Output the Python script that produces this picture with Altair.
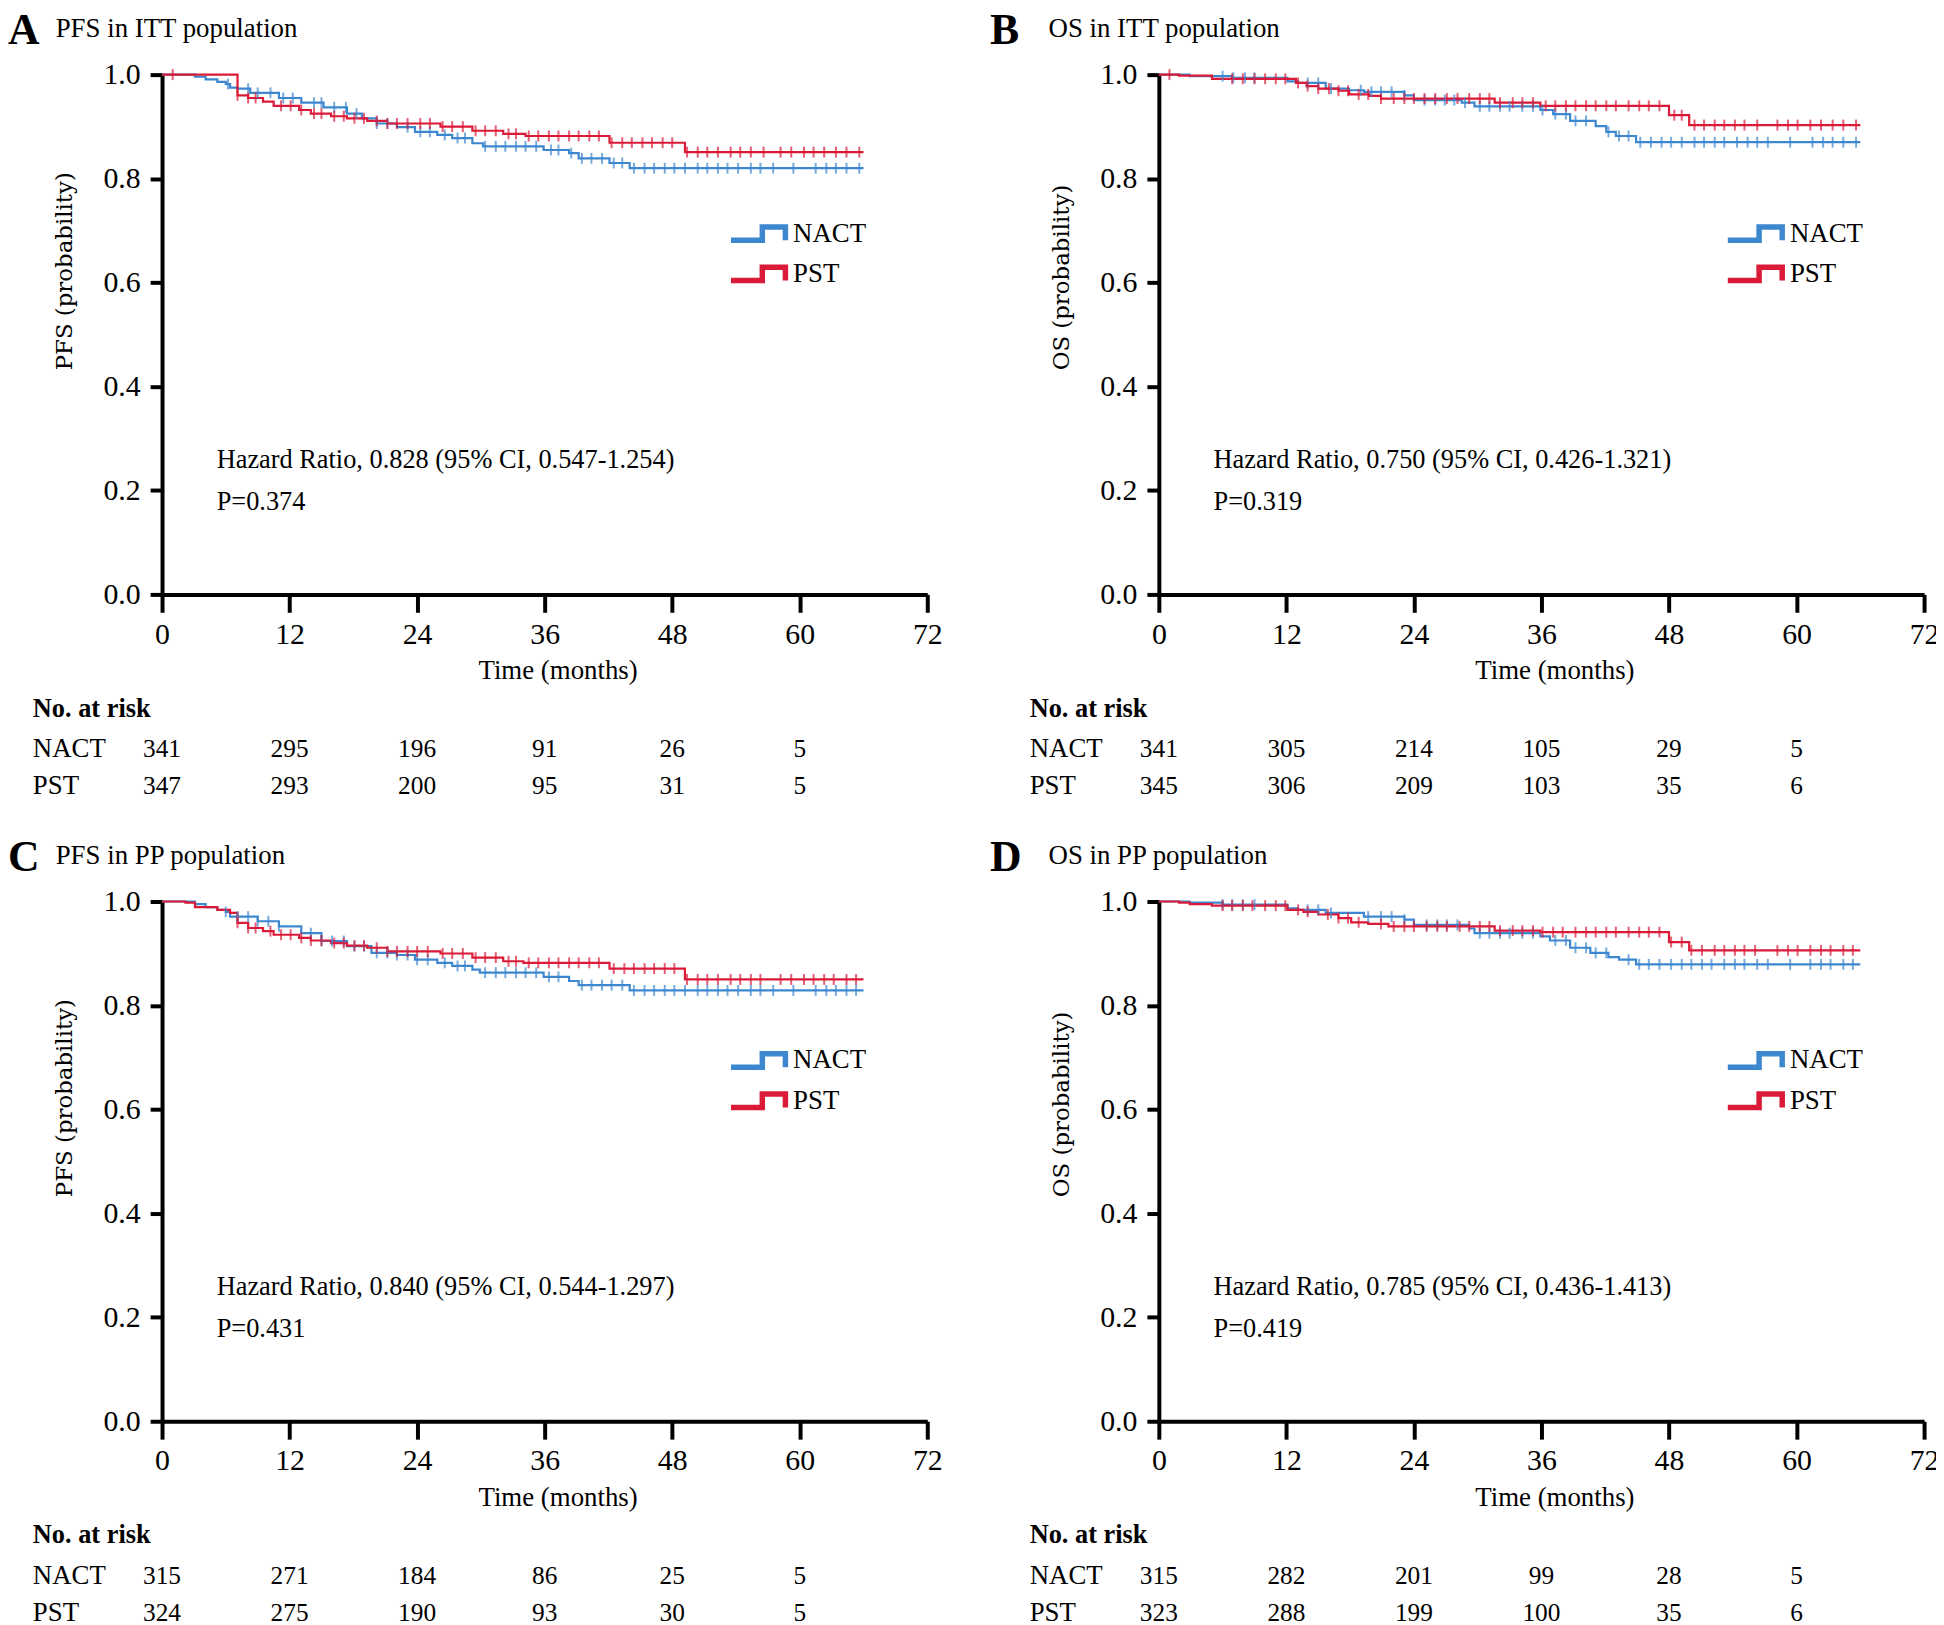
import altair as alt
import pandas as pd

BLUE = "#3d87cf"
RED = "#da1a37"
SERIF = "Liberation Serif"
YFONT = "DejaVu Serif"
GROUPS = ["NACT", "PST"]
X_TICKS = [0, 12, 24, 36, 48, 60, 72]
Y_TICKS = [0.0, 0.2, 0.4, 0.6, 0.8, 1.0]
RISK_TIMES = [0, 12, 24, 36, 48, 60]

# ---------------- Panel A: PFS in ITT population ----------------
A_NACT_T = [0, 3.1, 4.1, 5.2, 6.0, 6.4, 7.1, 8.3, 11.0, 13.1, 15.2, 17.4, 18.8, 20.2, 22.1, 23.8, 25.9, 27.3, 29.2, 30.2, 35.9, 38.3, 39.2, 42.1, 44.0, 66.0]
A_NACT_S = [1.0, 0.996, 0.991, 0.986, 0.982, 0.975, 0.973, 0.965, 0.955, 0.946, 0.937, 0.925, 0.916, 0.906, 0.899, 0.890, 0.884, 0.878, 0.868, 0.862, 0.855, 0.849, 0.839, 0.830, 0.820, 0.820]
A_NACT_C = [6.2, 8.1, 9.0, 10.2, 11.4, 12.3, 14.3, 15.0, 16.2, 17.3, 18.3, 20.2, 21.2, 23.1, 24.3, 25.2, 26.6, 27.8, 28.5, 30.4, 31.4, 32.3, 33.3, 34.2, 35.2, 36.6, 37.3, 38.5, 39.5, 40.4, 41.4, 42.5, 43.3, 44.4, 45.4, 46.3, 47.3, 48.2, 49.2, 50.4, 51.3, 52.3, 53.2, 54.2, 55.4, 56.3, 57.5, 59.4, 61.5, 62.5, 63.4, 64.4, 65.6]
A_PST_T = [0, 7.1, 8.1, 9.5, 10.5, 12.9, 14.0, 15.9, 17.4, 19.3, 21.2, 26.2, 29.2, 32.1, 34.2, 42.1, 49.2, 66.0]
A_PST_S = [1.0, 0.960, 0.955, 0.948, 0.940, 0.932, 0.925, 0.920, 0.916, 0.911, 0.906, 0.900, 0.892, 0.886, 0.882, 0.869, 0.851, 0.851]
A_PST_C = [1.0, 7.1, 8.1, 8.8, 11.2, 12.1, 13.1, 14.3, 15.0, 16.2, 17.1, 18.1, 19.0, 20.2, 21.2, 22.1, 23.1, 24.3, 25.2, 26.4, 27.3, 28.3, 29.5, 30.4, 31.4, 32.6, 33.3, 34.5, 35.4, 36.4, 37.3, 38.3, 39.2, 40.2, 41.1, 42.3, 43.3, 44.2, 45.2, 46.1, 47.1, 48.0, 49.4, 50.4, 51.3, 52.3, 53.5, 54.4, 55.4, 56.6, 58.2, 59.2, 60.4, 61.3, 62.3, 63.4, 64.4, 65.6]
A_RISK_NACT = [341, 295, 196, 91, 26, 5]
A_RISK_PST = [347, 293, 200, 95, 31, 5]

# ---------------- Panel B: OS in ITT population ----------------
B_NACT_T = [0, 2.9, 6.9, 12.1, 13.1, 15.7, 17.9, 19.3, 23.1, 24.0, 28.5, 29.7, 35.9, 37.1, 38.7, 41.1, 42.1, 43.0, 44.9, 66.0]
B_NACT_S = [1.0, 0.997, 0.994, 0.987, 0.984, 0.973, 0.970, 0.967, 0.960, 0.951, 0.946, 0.939, 0.932, 0.924, 0.911, 0.901, 0.890, 0.882, 0.870, 0.870]
B_NACT_C = [6.0, 7.0, 8.1, 9.0, 14.0, 15.0, 16.2, 19.0, 20.0, 20.9, 21.9, 23.1, 25.0, 26.0, 26.9, 27.8, 28.8, 30.2, 31.1, 32.1, 33.0, 34.2, 35.2, 36.1, 37.3, 38.3, 39.2, 40.2, 42.3, 43.3, 44.2, 45.3, 46.3, 47.3, 48.2, 49.2, 50.4, 51.3, 52.3, 53.2, 54.4, 55.4, 56.3, 57.3, 59.4, 61.5, 62.5, 63.4, 64.4, 65.6]
B_PST_T = [0, 1.9, 5.0, 12.9, 13.9, 15.0, 16.9, 17.9, 19.8, 20.9, 31.6, 35.9, 48.0, 49.9, 66.0]
B_PST_S = [1.0, 0.998, 0.992, 0.984, 0.978, 0.973, 0.969, 0.962, 0.959, 0.954, 0.946, 0.940, 0.922, 0.903, 0.903]
B_PST_C = [1.0, 6.9, 7.9, 9.0, 10.0, 11.0, 11.9, 13.1, 14.0, 15.0, 16.0, 16.9, 17.8, 18.8, 19.7, 20.9, 22.1, 23.1, 24.0, 25.0, 26.0, 27.1, 28.1, 29.2, 30.2, 31.1, 32.1, 33.3, 34.2, 35.2, 36.4, 37.3, 38.3, 39.2, 40.2, 41.1, 42.1, 43.0, 44.2, 45.2, 46.1, 47.1, 48.5, 49.2, 50.4, 51.3, 52.3, 53.2, 54.2, 55.1, 56.3, 58.2, 59.2, 60.1, 61.3, 62.3, 63.4, 64.4, 65.6]
B_RISK_NACT = [341, 305, 214, 105, 29, 5]
B_RISK_PST = [345, 306, 209, 103, 35, 6]

# ---------------- Panel C: PFS in PP population ----------------
C_NACT_T = [0, 3.1, 4.1, 5.2, 6.0, 6.4, 9.0, 11.0, 13.1, 15.0, 17.4, 19.7, 22.1, 23.8, 25.9, 27.3, 29.2, 29.9, 35.9, 38.3, 39.2, 44.0, 66.0]
C_NACT_S = [1.0, 0.995, 0.989, 0.984, 0.980, 0.971, 0.962, 0.952, 0.939, 0.924, 0.914, 0.901, 0.897, 0.888, 0.882, 0.876, 0.869, 0.863, 0.855, 0.847, 0.839, 0.829, 0.829]
C_NACT_C = [6.0, 7.1, 8.1, 9.0, 10.0, 11.0, 14.0, 15.0, 16.0, 17.1, 18.1, 19.0, 20.2, 21.2, 22.1, 23.1, 24.0, 25.0, 26.6, 27.8, 28.5, 30.4, 31.4, 32.3, 33.3, 34.2, 35.2, 36.4, 37.3, 39.5, 40.4, 41.4, 42.3, 43.3, 44.4, 45.4, 46.3, 47.3, 48.2, 49.2, 50.4, 51.3, 52.3, 53.2, 54.2, 55.4, 56.3, 57.5, 59.4, 61.5, 62.5, 63.4, 64.4, 65.3]
C_PST_T = [0, 2.2, 3.1, 5.2, 6.4, 7.1, 8.1, 9.5, 10.5, 12.9, 14.0, 15.9, 17.4, 19.3, 21.2, 26.2, 29.2, 32.1, 34.0, 42.1, 49.2, 66.0]
C_PST_S = [1.0, 0.998, 0.989, 0.984, 0.978, 0.959, 0.949, 0.943, 0.936, 0.930, 0.925, 0.920, 0.915, 0.911, 0.904, 0.900, 0.892, 0.885, 0.882, 0.871, 0.850, 0.850]
C_PST_C = [7.1, 8.1, 8.8, 10.2, 11.2, 12.1, 13.1, 14.0, 15.0, 16.2, 17.1, 18.1, 19.0, 20.2, 21.2, 22.1, 23.1, 24.0, 25.0, 26.4, 27.3, 28.3, 29.5, 30.4, 31.4, 32.6, 33.3, 34.5, 35.4, 36.4, 37.3, 38.3, 39.2, 40.2, 41.1, 42.5, 43.5, 44.4, 45.4, 46.3, 47.3, 48.2, 49.4, 50.4, 51.3, 52.3, 53.5, 54.4, 55.4, 56.3, 58.2, 59.2, 60.4, 61.3, 62.3, 63.2, 64.4, 65.3]
C_RISK_NACT = [315, 271, 184, 86, 25, 5]
C_RISK_PST = [324, 275, 190, 93, 30, 5]

# ---------------- Panel D: OS in PP population ----------------
D_NACT_T = [0, 2.9, 6.0, 12.1, 13.1, 15.7, 19.3, 23.1, 24.0, 29.2, 29.7, 35.9, 36.8, 38.7, 40.6, 42.3, 43.3, 44.9, 66.0]
D_NACT_S = [1.0, 0.998, 0.994, 0.987, 0.984, 0.978, 0.971, 0.965, 0.955, 0.948, 0.939, 0.933, 0.925, 0.911, 0.901, 0.893, 0.888, 0.879, 0.879]
D_NACT_C = [6.0, 6.9, 7.9, 9.0, 14.0, 15.0, 16.2, 19.7, 20.9, 21.9, 23.1, 25.2, 26.2, 27.1, 28.1, 30.2, 31.1, 32.1, 33.0, 34.2, 35.2, 37.3, 38.3, 39.2, 40.2, 41.1, 42.1, 44.2, 45.2, 46.1, 47.1, 48.2, 49.2, 50.1, 51.1, 52.0, 53.2, 54.2, 55.1, 56.3, 57.3, 59.4, 61.3, 62.3, 63.2, 64.4, 65.3]
D_PST_T = [0, 1.9, 2.9, 5.0, 12.1, 13.6, 15.0, 16.9, 18.1, 19.7, 21.6, 31.6, 35.9, 48.0, 49.9, 66.0]
D_PST_S = [1.0, 0.998, 0.995, 0.992, 0.984, 0.980, 0.975, 0.968, 0.960, 0.957, 0.952, 0.944, 0.941, 0.922, 0.906, 0.906]
D_PST_C = [6.0, 6.9, 7.9, 8.8, 10.0, 11.0, 11.9, 13.1, 14.0, 15.9, 16.9, 17.8, 18.8, 20.9, 22.1, 23.1, 24.0, 25.2, 26.2, 27.1, 28.3, 29.2, 30.2, 31.1, 32.1, 33.3, 34.2, 35.2, 36.1, 37.1, 38.0, 39.2, 40.2, 41.1, 42.1, 43.0, 44.2, 45.2, 46.1, 47.1, 48.2, 49.2, 50.1, 51.1, 52.3, 53.2, 54.2, 55.1, 56.1, 58.2, 59.2, 60.1, 61.3, 62.3, 63.2, 64.4, 65.3]
D_RISK_NACT = [315, 282, 201, 99, 28, 5]
D_RISK_PST = [323, 288, 199, 100, 35, 6]

PANELS = [
    dict(letter="A", title="PFS in ITT population", ytitle="PFS (probability)",
         hr="Hazard Ratio, 0.828 (95% CI, 0.547-1.254)", p="P=0.374",
         nact=(A_NACT_T, A_NACT_S, A_NACT_C), pst=(A_PST_T, A_PST_S, A_PST_C),
         risk=(A_RISK_NACT, A_RISK_PST), col=0),
    dict(letter="B", title="OS in ITT population", ytitle="OS (probability)",
         hr="Hazard Ratio, 0.750 (95% CI, 0.426-1.321)", p="P=0.319",
         nact=(B_NACT_T, B_NACT_S, B_NACT_C), pst=(B_PST_T, B_PST_S, B_PST_C),
         risk=(B_RISK_NACT, B_RISK_PST), col=1),
    dict(letter="C", title="PFS in PP population", ytitle="PFS (probability)",
         hr="Hazard Ratio, 0.840 (95% CI, 0.544-1.297)", p="P=0.431",
         nact=(C_NACT_T, C_NACT_S, C_NACT_C), pst=(C_PST_T, C_PST_S, C_PST_C),
         risk=(C_RISK_NACT, C_RISK_PST), col=0),
    dict(letter="D", title="OS in PP population", ytitle="OS (probability)",
         hr="Hazard Ratio, 0.785 (95% CI, 0.436-1.413)", p="P=0.419",
         nact=(D_NACT_T, D_NACT_S, D_NACT_C), pst=(D_PST_T, D_PST_S, D_PST_C),
         risk=(D_RISK_NACT, D_RISK_PST), col=1),
]

# step-shaped legend symbol, traced forward and back so that it encloses no area
STEP_SYMBOL = "M-1.9,0.45 H0.2 V-0.45 H1.75 V0.45 V-0.45 H0.2 V0.45 Z"
W, H = 770, 523


def step_value(times, surv, t):
    v = surv[0]
    for ti, si in zip(times, surv):
        if ti <= t:
            v = si
    return v


def label(text, x, y, size, weight="normal", align="left", font=SERIF):
    return alt.Chart(alt.Data(values=[{"txt": text}])).mark_text(
        align=align, baseline="alphabetic", fontSize=size, fontWeight=weight,
        font=font, color="black"
    ).encode(text="txt:N", x=alt.value(x), y=alt.value(y))


def panel(P):
    rows, cens = [], []
    for g, (tt, ss, cc) in zip(GROUPS, [P["nact"], P["pst"]]):
        for t, s in zip(tt, ss):
            rows.append({"t": t, "s": s, "g": g})
        for c in cc:
            cens.append({"t": c, "s": step_value(tt, ss, c), "g": g})
    steps = pd.DataFrame(rows)
    cdf = pd.DataFrame(cens)

    x = alt.X("t:Q", title="Time (months)",
              scale=alt.Scale(domain=[0, 72], nice=False, zero=False),
              axis=alt.Axis(values=X_TICKS, format="d", labelFlush=False))
    y = alt.Y("s:Q", title=P["ytitle"], scale=alt.Scale(domain=[0, 1], nice=False),
              axis=alt.Axis(values=Y_TICKS, format=".1f", labelFlush=False))
    cscale = alt.Scale(domain=GROUPS, range=[BLUE, RED])
    legend = alt.Legend(
        title=None, orient="none", legendX=583, legendY=142, padding=0,
        symbolType=STEP_SYMBOL, symbolSize=900, symbolStrokeWidth=5.5,
        symbolFillColor="transparent", labelOffset=16, rowPadding=4.5,
        labelFont=SERIF, labelFontSize=27, labelColor="black",
    )

    # legend carrier: a thick line through only the first point of each curve
    # (a single point draws nothing), so its legend symbols are thick
    key = alt.Chart(steps[steps["t"] == 0]).mark_line(strokeWidth=5.5).encode(
        x=x, y=y, color=alt.Color("g:N", scale=cscale, legend=legend)
    )
    lines = alt.Chart(steps).mark_line(interpolate="step-after", strokeWidth=2.2).encode(
        x=x, y=y, color=alt.Color("g:N", scale=cscale, legend=None)
    )
    ticks = alt.Chart(cdf).mark_tick(orient="vertical", size=11, thickness=2).encode(
        x=x, y=y, color=alt.Color("g:N", scale=cscale, legend=None)
    )

    layers = [key, lines, ticks]
    for vals, yy in zip(P["risk"], [687, 724]):
        rdf = pd.DataFrame({"t": RISK_TIMES, "n": [str(v) for v in vals]})
        layers.append(
            alt.Chart(rdf).mark_text(align="center", baseline="alphabetic", fontSize=25.5,
                                     font=SERIF, color="black")
            .encode(x=x, y=alt.value(yy), text="n:N")
        )
    letter_x = -155 if P["col"] == 0 else -170
    title_x = -107 if P["col"] == 0 else -111
    layers += [
        label(P["hr"], 55, 396, 26.5),
        label(P["p"], 55, 438, 26.5),
        label("No. at risk", -130, 646, 26.5, weight="bold"),
        label("NACT", -130, 687, 27),
        label("PST", -130, 724, 27),
        label(P["letter"], letter_x, -31, 44, weight="bold"),
        label(P["title"], title_x, -38, 27),
    ]
    return alt.layer(*layers).properties(width=W, height=H)


chart = alt.concat(
    *[panel(P) for P in PANELS], columns=2,
    spacing={"row": 309, "column": 233}, bounds="flush"
).resolve_scale(color="independent").resolve_legend(color="independent").properties(
    padding={"left": 0, "top": -4, "right": -3, "bottom": 0}
).configure_view(stroke=None).configure_axis(
    domainColor="black", domainWidth=4, tickColor="black", tickWidth=4,
    labelFont=SERIF, labelFontSize=30, labelColor="black", grid=False,
    titleColor="black", titleFontWeight="normal",
).configure_axisX(
    tickSize=18, labelPadding=7, titleFont=SERIF, titleFontSize=27,
    titleX=398, titleY=84.5, titleAlign="center", titleBaseline="alphabetic",
).configure_axisY(
    tickSize=12, labelPadding=10, titleFont=YFONT, titleFontSize=23,
    titleAngle=270, titleX=-86, titleY=297, titleAlign="left", titleBaseline="bottom",
)

chart.save("out.html", embed_options={"renderer": "svg", "actions": False})
